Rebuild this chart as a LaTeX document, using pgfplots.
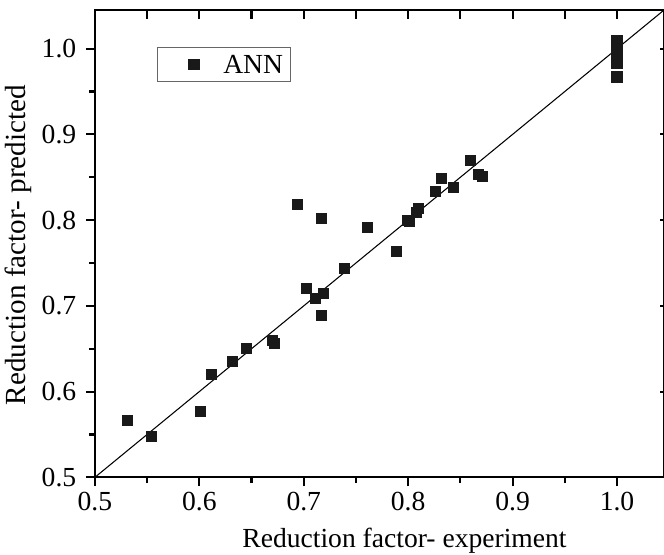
\documentclass[border=0pt]{standalone}
\usepackage{pgfplots}
\pgfplotsset{compat=1.18}
\usepackage{fontspec}
\setmainfont{Liberation Serif}
\definecolor{mk}{RGB}{25,25,25}
\begin{document}
\fontsize{10.4pt}{12pt}\selectfont
\begin{tikzpicture}
\pgfplotsset{
  common/.style={
    scale only axis, width=214.6pt, height=176.2pt,
    xmin=0.5, xmax=1.045, ymin=0.5, ymax=1.045,
    axis line style={line width=0.8pt},
    tick style={line width=0.8pt, black},
    /pgf/number format/assume math mode=true,
  }
}
\begin{axis}[common, name=ax,
  xtick pos=left, ytick pos=left, tick align=outside,
  xtick={0.5,0.6,0.7,0.8,0.9,1.0}, ytick={0.5,0.6,0.7,0.8,0.9,1.0},
  minor x tick num=1, minor y tick num=1,
  major tick length=3.4pt, minor tick length=2.2pt,
  xticklabel style={yshift=1.5pt, /pgf/number format/.cd, fixed, fixed zerofill, precision=1},
  yticklabel style={/pgf/number format/.cd, fixed, fixed zerofill, precision=1},
  xlabel={Reduction factor- experiment},
  ylabel={Reduction factor- predicted},
  every axis x label/.style={at={(axis description cs:0.544,-0.1496)}, anchor=base},
  every axis y label/.style={at={(axis description cs:-0.135,0.497)}, anchor=center, rotate=90,
    font=\fontsize{11pt}{13pt}\selectfont},
  legend style={at={(axis description cs:0.1088,0.921)}, anchor=north west,
    draw=black!60, line width=0.5pt, inner xsep=2.75pt, inner ysep=2.95pt,
    nodes={inner sep=0pt, text depth=0pt},
    font=\fontsize{10.4pt}{12pt}\selectfont},
  legend image code/.code={\path[draw=none,fill=none] (0pt,0pt) -- (22.05pt,0pt); \draw[#1] plot coordinates {(11.05pt,0pt)};},
]
\addplot[black, line width=0.4pt, forget plot] coordinates {(0.5,0.5) (1.045,1.045)};
\addplot[only marks, mark=square*, mark size=1.9pt, color=mk] coordinates {
(0.531,0.566) (0.554,0.548) (0.601,0.577) (0.612,0.620) (0.632,0.635)
(0.645,0.650) (0.670,0.660) (0.672,0.656) (0.703,0.720) (0.711,0.709)
(0.719,0.714) (0.717,0.689) (0.739,0.744) (0.694,0.818) (0.717,0.802)
(0.761,0.791) (0.789,0.763) (0.799,0.800) (0.801,0.799) (0.808,0.809)
(0.810,0.814) (0.826,0.833) (0.832,0.849) (0.843,0.838) (0.860,0.870)
(0.867,0.853) (0.871,0.851)
(1.0,1.009) (1.0,1.004) (1.0,1.000) (1.0,0.996) (1.0,0.992) (1.0,0.988)
(1.0,0.983) (1.0,0.967)
};
\addlegendentry{ANN}
\end{axis}
\begin{axis}[common,
  xtick pos=right, ytick pos=right, tick align=inside,
  xtick={0.5,0.55,...,1.04}, ytick=\empty,
  xticklabels={}, major tick length=3.4pt,
]
\end{axis}
\begin{axis}[common,
  xtick=\empty, ytick pos=right, tick align=inside,
  ytick={0.6,0.7,0.8,0.9,1.0}, yticklabels={}, major tick length=1.5pt,
]
\end{axis}
\pgfresetboundingbox
\path ([shift={(-35.8pt,-29pt)}]ax.south west) rectangle ([shift={(0pt,3.8pt)}]ax.north east);
\end{tikzpicture}
\end{document}
